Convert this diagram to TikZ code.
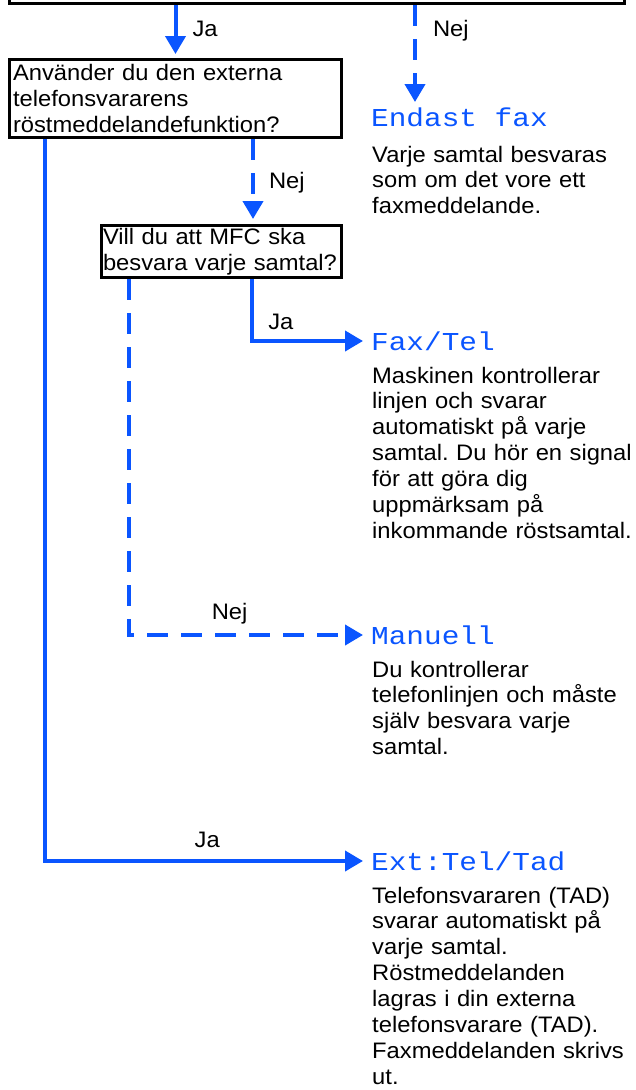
\documentclass[tikz,border=0pt]{standalone}
\usepackage{fontspec}
\setmainfont{Liberation Sans}[FakeStretch=1.06]
\newfontfamily\lcdfont{Liberation Mono}[FakeStretch=1.14]
\usetikzlibrary{arrows.meta,calc}
\definecolor{cBlue}{HTML}{0A55FF}
\frenchspacing

\begin{document}
\begin{tikzpicture}[
  x=1pt, y=-1pt,
  font=\fontsize{22.4}{25.9}\selectfont,
  >={Triangle[length=18pt,width=20pt]},
  qbox/.style={draw=black, line width=3pt, fill=white, align=left, inner ysep=0pt},
  flow/.style={->, draw=cBlue, line width=4pt},
  dashflow/.style={flow, dash pattern=on 21pt off 13pt},
  tag/.style={inner sep=0pt, text=black},
  mode/.style={inner sep=0pt, anchor=base west, text=cBlue,
               font=\lcdfont\fontsize{25.8}{28}\selectfont},
  desc/.style={inner sep=0pt, anchor=base west, align=left, text width=300pt},
]
\useasboundingbox (0,0) rectangle (636,1090);
\clip (0,0) rectangle (636,1090);

% ---- questions
\node[qbox, minimum width=615pt, minimum height=60pt, anchor=south] (q0) at (317,5) {};
\node[qbox, text width=325pt, inner xsep=3.5pt, minimum height=78pt] (q1) at (175.5,98.5)
  {Använder du den externa\\telefonsvararens\\röstmeddelandefunktion?};
\node[qbox, text width=237pt, inner xsep=1.5pt, minimum height=52pt] (q2) at (221.5,251.5)
  {Vill du att MFC ska\\besvara varje samtal?};

% ---- answer modes
\node[mode] (fax) at (371,126) {Endast fax};
\node[desc] (faxtxt) at (372,162)
  {Varje samtal besvaras\\som om det vore ett\\faxmeddelande.};
\node[mode] (faxtel) at (371,350) {Fax/Tel};
\node[desc] (faxteltxt) at (372,383)
  {Maskinen kontrollerar\\linjen och svarar\\automatiskt på varje\\samtal. Du hör en signal\\för att göra dig\\uppmärksam på\\inkommande röstsamtal.};
\node[mode] (manuell) at (371,644) {Manuell};
\node[desc] (manuelltxt) at (372,677)
  {Du kontrollerar\\telefonlinjen och måste\\själv besvara varje\\samtal.};
\node[mode] (exttel) at (371,870) {Ext:Tel/Tad};
\node[desc] (exteltxt) at (372,903)
  {Telefonsvararen (TAD)\\svarar automatiskt på\\varje samtal.\\Röstmeddelanden\\lagras i din externa\\telefonsvarare (TAD).\\Faxmeddelanden skrivs\\ut.};

\coordinate (faxin) at ([xshift=44pt,yshift=24pt]fax.base west);

% ---- connectors
\draw[flow, shorten >=4pt] (q0.south -| q1.north) -- node[tag, right=15pt, pos=0.46]{Ja} (q1.north);
\draw[dashflow] (q0.south -| faxin) -- node[tag, right=16pt, pos=0.27]{Nej} (faxin);
\draw[dashflow, shorten >=5pt] ([xshift=-90pt]q1.south east) -- node[tag, right=14pt, pos=0.52]{Nej}
  ([xshift=-90pt]q1.south east |- q2.north);
\draw[flow] ([xshift=-91pt]q2.south east) |- node[tag, above=9pt, pos=0.63]{Ja}
  ([xshift=-8pt,yshift=9pt]faxtel.base west);
\draw[dashflow] ([xshift=29pt]q2.south west) |- node[tag, above=9pt, pos=0.715]{Nej}
  ([xshift=-8pt,yshift=9pt]manuell.base west);
\draw[flow] ([xshift=37pt]q1.south west) |- node[tag, above=11.5pt, pos=0.755]{Ja}
  ([xshift=-8pt,yshift=9pt]exttel.base west);
\end{tikzpicture}
\end{document}
